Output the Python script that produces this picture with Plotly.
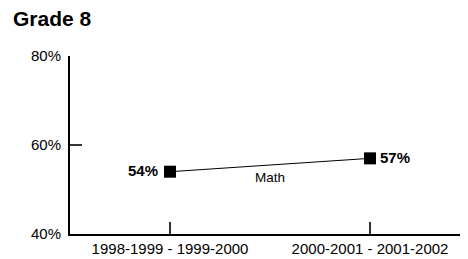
import plotly.graph_objects as go

categories = ["1998-1999 - 1999-2000", "2000-2001 - 2001-2002"]
math_values = [54, 57]
value_labels = ["54%", "57%"]
y_ticks = [40, 60, 80]
y_tick_labels = ["40%", "60%", "80%"]

FONT = "Liberation Sans, Arial, sans-serif"

fig = go.Figure()
fig.add_trace(go.Scatter(
    x=[0, 1], y=math_values,
    mode="lines+markers",
    line=dict(color="black", width=1),
    marker=dict(symbol="square", size=12, color="black"),
    showlegend=False,
    cliponaxis=False,
))

for i, (v, lab) in enumerate(zip(math_values, value_labels)):
    left = i == 0
    fig.add_annotation(
        x=i, y=v, text=f"<b>{lab}</b>", showarrow=False,
        xanchor="right" if left else "left",
        xshift=-10 if left else 8, yshift=1,
        font=dict(family=FONT, size=15, color="black"),
    )

fig.add_annotation(x=0.5, y=52.8, text="Math", showarrow=False,
                   font=dict(family=FONT, size=13.5, color="black"))
fig.add_annotation(xref="paper", yref="paper", x=-0.148, y=1.213,
                   xanchor="left", yanchor="middle",
                   text="<b>Grade 8</b>", showarrow=False,
                   font=dict(family=FONT, size=21, color="black"))

fig.update_layout(
    width=460, height=251, autosize=False,
    margin=dict(l=62, r=0, t=48, b=25),
    plot_bgcolor="white", paper_bgcolor="white",
    xaxis=dict(
        range=[-0.5, 1.49],
        tickvals=[0, 1], ticktext=categories,
        ticks="inside", ticklen=12, tickwidth=1.5, tickcolor="#333",
        showline=True, linecolor="black", linewidth=2,
        showgrid=False, zeroline=False,
        tickfont=dict(family=FONT, size=15, color="black"),
    ),
    yaxis=dict(
        range=[40, 80],
        tickvals=y_ticks, ticktext=y_tick_labels,
        ticks="inside", ticklen=12, tickwidth=1.5, tickcolor="#333",
        ticklabelstandoff=4,
        showline=True, linecolor="black", linewidth=2,
        showgrid=False, zeroline=False,
        tickfont=dict(family=FONT, size=15, color="black"),
    ),
)

fig.write_html("out.html")
